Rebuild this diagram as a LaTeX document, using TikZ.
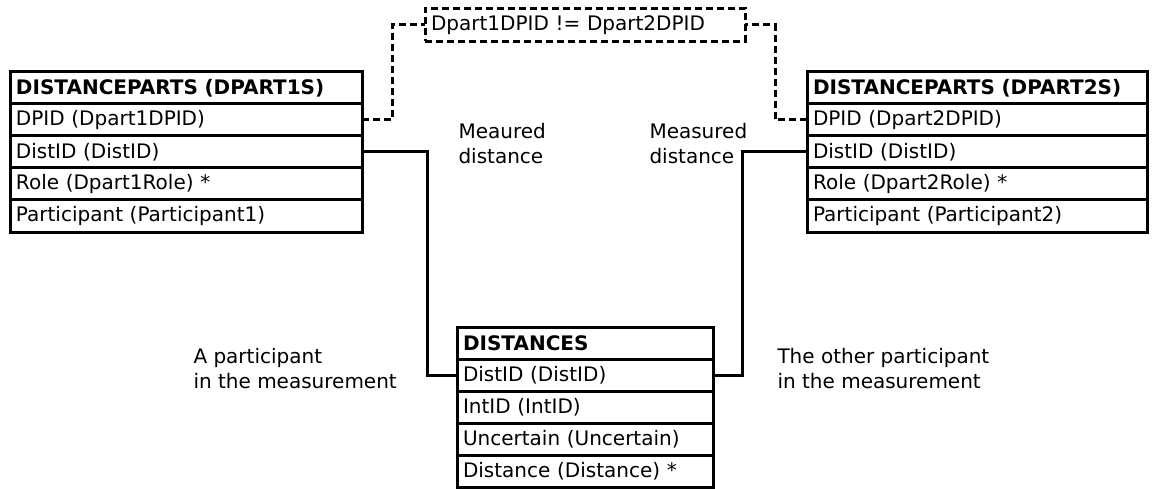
\documentclass[tikz,border=0pt]{standalone}
\usepackage{fontspec}
\setmainfont{DejaVu Sans}
\usepackage{tikz}
\usetikzlibrary{chains,positioning}

\begin{document}
\begin{tikzpicture}[x=1pt,y=-1pt,font=\fontsize{20pt}{25pt}\selectfont]
\tikzstyle{every path}=[line width=3pt]
\edef\rowheight{32pt}
\tikzstyle{tblrow}=[draw,outer sep=0pt,minimum height=\rowheight,inner xsep=6pt,inner ysep=0pt,align=left]
\tikzstyle{tblhead}=[tblrow,font=\fontsize{20pt}{25pt}\selectfont\bfseries]
\tikzstyle{note}=[inner sep=0pt,align=left,anchor=north west]
\tikzstyle{link}=[line width=3pt]
\tikzstyle{dlink}=[line width=3pt,dash pattern=on 7pt off 4pt]
\useasboundingbox (0,0) rectangle (1156,489);
% first participant
\begin{scope}[shift={(10,72)},start chain=dp1 going below,node distance=0pt]
 \node [on chain=dp1,tblhead,text width=340pt,anchor=north west] (dp1head) {DISTANCEPARTS (DPART1S)};
 \node [on chain=dp1,tblrow,text width=340pt] (dp1id) {DPID (Dpart1DPID)};
 \node [on chain=dp1,tblrow,text width=340pt] (dp1dist) {DistID (DistID)};
 \node [on chain=dp1,tblrow,text width=340pt] (dp1role) {Role (Dpart1Role) *};
 \node [on chain=dp1,tblrow,text width=340pt] (dp1part) {Participant (Participant1)};
\end{scope}
% second participant
\begin{scope}[shift={(807,72)},start chain=dp2 going below,node distance=0pt]
 \node [on chain=dp2,tblhead,text width=328pt,anchor=north west] (dp2head) {DISTANCEPARTS (DPART2S)};
 \node [on chain=dp2,tblrow,text width=328pt] (dp2id) {DPID (Dpart2DPID)};
 \node [on chain=dp2,tblrow,text width=328pt] (dp2dist) {DistID (DistID)};
 \node [on chain=dp2,tblrow,text width=328pt] (dp2role) {Role (Dpart2Role) *};
 \node [on chain=dp2,tblrow,text width=328pt] (dp2part) {Participant (Participant2)};
\end{scope}
% distances
\begin{scope}[shift={(457,327)},start chain=ds going below,node distance=0pt]
 \node [on chain=ds,tblhead,text width=244pt,anchor=north west] (dshead) {DISTANCES};
 \node [on chain=ds,tblrow,text width=244pt] (dsid) {DistID (DistID)};
 \node [on chain=ds,tblrow,text width=244pt] (dsint) {IntID (IntID)};
 \node [on chain=ds,tblrow,text width=244pt] (dsunc) {Uncertain (Uncertain)};
 \node [on chain=ds,tblrow,text width=244pt] (dsval) {Distance (Distance) *};
\end{scope}
% constraint
\node [dlink,draw,outer sep=0pt,minimum height=33pt,inner xsep=6pt,inner ysep=0pt,text width=308pt,align=left] at (585,25) (cons) {Dpart1DPID != Dpart2DPID};
\draw [dlink] (dp1id.east) -- ++(30,0) |- (cons.west);
\draw [dlink] (dp2id.west) -- ++(-32,0) |- (cons.east);
% keys
\draw [link] (dp1dist.east) -- ++(65,0) |- (dsid.west);
\draw [link] (dp2dist.west) -- ++(-65,0) |- (dsid.east);
% notes
\node [note] at (457,122) (meas1) {Meaured\\distance};
\node [note] at (648,122) (meas2) {Measured\\distance};
\node [note] at (192,347) (part1) {A participant\\in the measurement};
\node [note] at (776,347) (part2) {The other participant\\in the measurement};
\end{tikzpicture}
\end{document}
